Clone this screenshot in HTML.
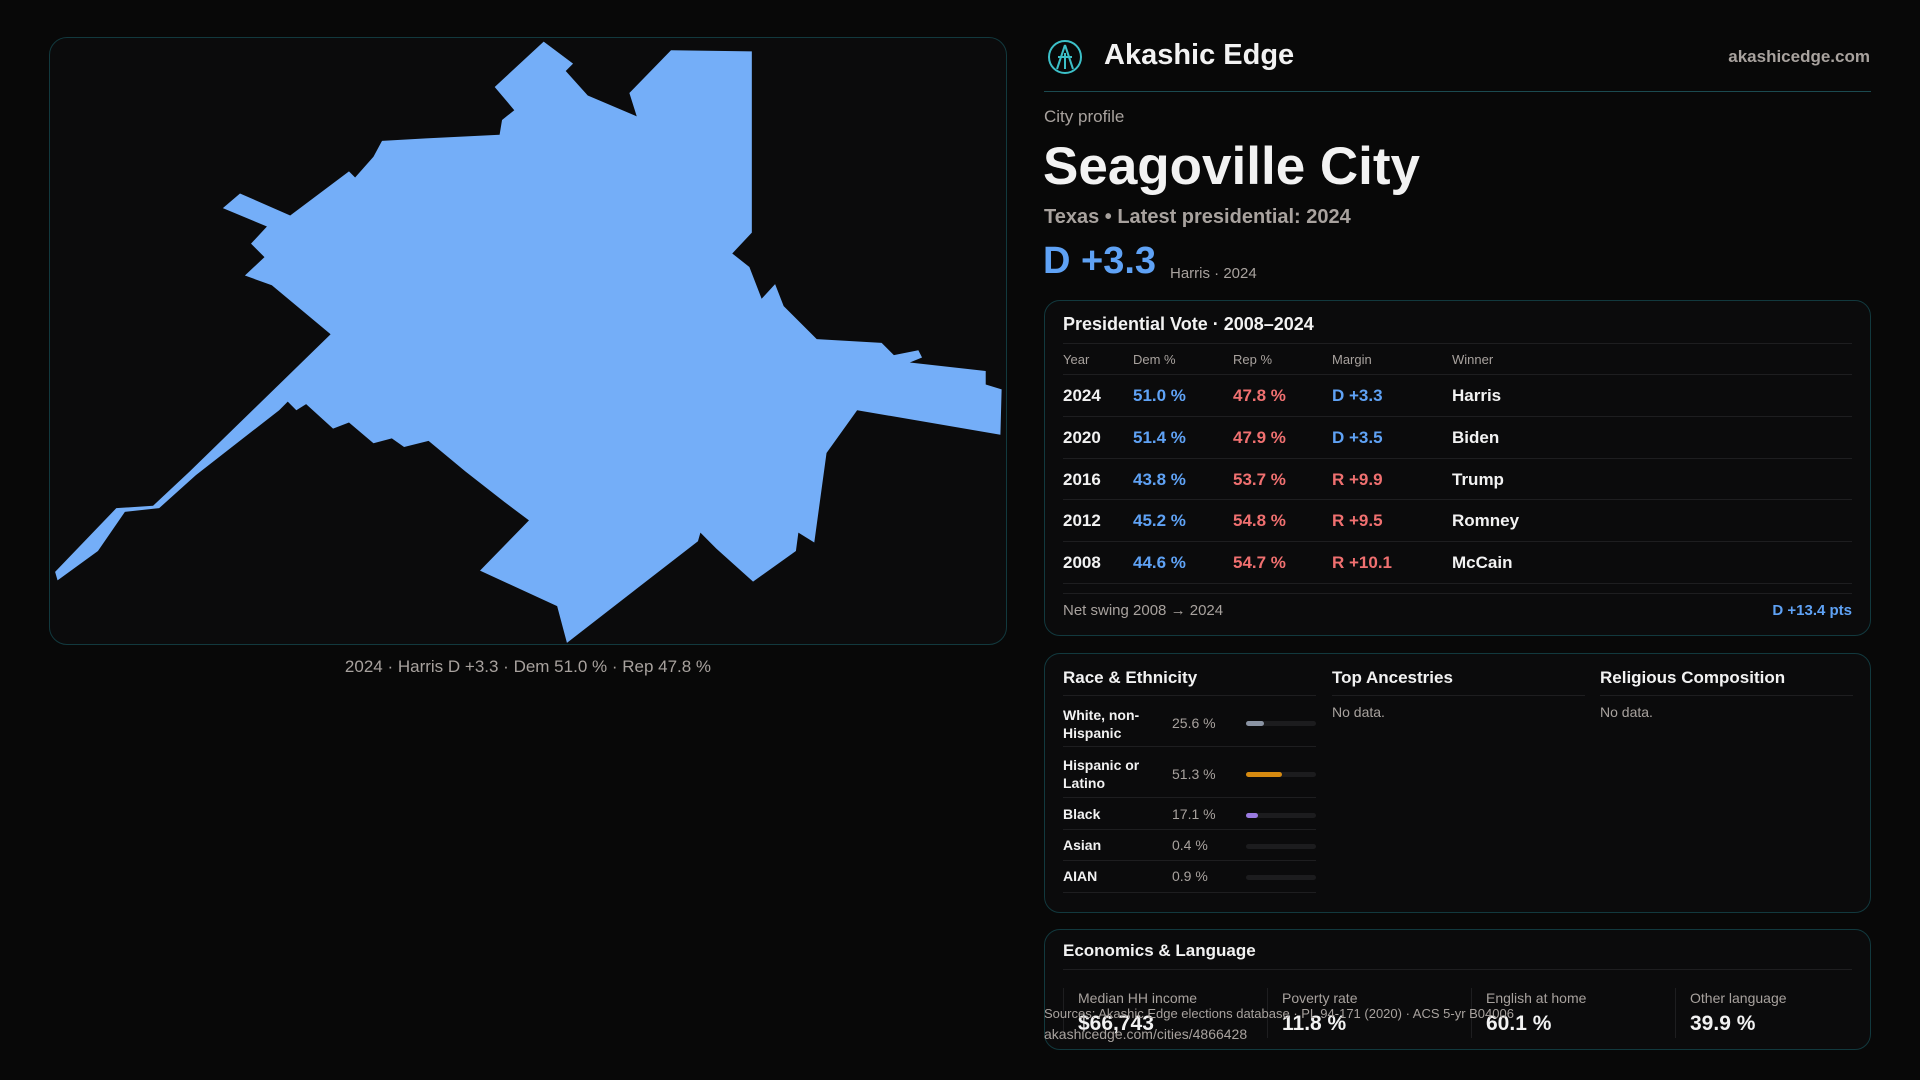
<!DOCTYPE html>
<html><head><meta charset="utf-8"><style>
*{margin:0;padding:0;box-sizing:border-box}
body{width:1920px;height:1080px;background:#080808;font-family:"Liberation Sans",sans-serif;color:#f2f2f2;position:relative;overflow:hidden}
.a{position:absolute;white-space:nowrap}
.panel{position:absolute;background:#0b0b0c;border:1px solid #12393e;border-radius:16px}
.g{color:#a8a29e}
.b{color:#5fa2f5}.r{color:#f07070}
.row{position:absolute;left:0;width:100%;border-bottom:1px solid #1e1e20}
</style></head><body>
<div class="panel" style="left:49px;top:37px;width:958px;height:608px;border-radius:18px"></div>
<svg class="a" style="left:0;top:0" width="1920" height="1080" viewBox="0 0 1568 882">
<polygon fill="#74aef8" points="444,34 468,52 462,58 480,78 520,95 514,76 548,41 614,42 614,190 598,207 612,218 622,244 633,232 640,250 667,277 720,280 730,290 750,286 753,292 743,296 805,303 805,314 818,318 817,355 700,335 675,370 665,443 652,435 650,450 615,475 585,448 572,435 570,442 463,525 455,495 392,466 432,425 412,410 380,385 350,360 330,365 320,358 305,362 285,345 272,350 250,330 242,335 235,328 228,335 160,388 130,415 102,418 80,450 47,474 45,467 95,415 125,413 155,385 270,273 222,233 200,225 216,210 205,199 218,185 182,170 196,158 237,176 285,140 290,145 305,128 312,115 348,113 408,110 410,98 420,90 404,71"/>
</svg>
<div class="a g" style="left:0;width:1056px;text-align:center;top:657px;font-size:17px">2024 · Harris D +3.3 · Dem 51.0 % · Rep 47.8 %</div>

<svg class="a" style="left:1047px;top:39px" width="36" height="36" viewBox="0 0 36 36"><circle cx="18" cy="18" r="16" fill="none" stroke="#3cc0c8" stroke-width="2"/><path d="M18 6 L10 30 M18 6 L26 30 M11 18 L25 18 M18 14 V30" stroke="#3cc0c8" stroke-width="2" fill="none"/></svg>
<div class="a" style="left:1104px;top:39px;font-size:29px;font-weight:bold">Akashic Edge</div>
<div class="a g" style="right:50px;top:47px;font-size:17px;font-weight:bold">akashicedge.com</div>
<div class="a" style="left:1044px;top:91px;width:827px;height:1px;background:#1b4a50"></div>
<div class="a g" style="left:1044px;top:107px;font-size:17px">City profile</div>
<div class="a" style="left:1043px;top:136px;font-size:53px;font-weight:bold">Seagoville City</div>
<div class="a g" style="left:1044px;top:206px;font-size:20px;font-weight:bold">Texas • Latest presidential: 2024</div>
<div class="a b" style="left:1043px;top:240px;font-size:38px;font-weight:bold">D +3.3</div>
<div class="a g" style="left:1170px;top:265px;font-size:15px">Harris · 2024</div>

<div class="panel" style="left:1044px;top:300px;width:827px;height:336px">
 <div class="a" style="left:18px;top:13px;font-size:18px;font-weight:bold">Presidential Vote · 2008–2024</div>
 <div style="position:absolute;left:18px;right:18px;top:42px;height:250px">
  <div class="row" style="top:0;height:32px;border-top:1px solid #1e1e20"></div>
  <div class="a g" style="left:0;top:9px;font-size:13px">Year</div><div class="a g" style="left:70px;top:9px;font-size:13px">Dem %</div><div class="a g" style="left:170px;top:9px;font-size:13px">Rep %</div><div class="a g" style="left:269px;top:9px;font-size:13px">Margin</div><div class="a g" style="left:389px;top:9px;font-size:13px">Winner</div>
  <div class="row" style="top:32px;height:42px"></div><div class="row" style="top:74px;height:42px"></div><div class="row" style="top:116px;height:41px"></div><div class="row" style="top:157px;height:42px"></div><div class="row" style="top:199px;height:42px"></div>
 </div>
 <div class="a" style="left:18px;top:74px;font-size:17px;line-height:41.8px;font-weight:bold">2024<br>2020<br>2016<br>2012<br>2008</div>
 <div class="a b" style="left:88px;top:74px;font-size:17px;line-height:41.8px;font-weight:bold">51.0 %<br>51.4 %<br>43.8 %<br>45.2 %<br>44.6 %</div>
 <div class="a r" style="left:188px;top:74px;font-size:17px;line-height:41.8px;font-weight:bold">47.8 %<br>47.9 %<br>53.7 %<br>54.8 %<br>54.7 %</div>
 <div class="a" style="left:287px;top:74px;font-size:17px;line-height:41.8px;font-weight:bold"><span class="b">D +3.3</span><br><span class="b">D +3.5</span><br><span class="r">R +9.9</span><br><span class="r">R +9.5</span><br><span class="r">R +10.1</span></div>
 <div class="a" style="left:407px;top:74px;font-size:17px;line-height:41.8px;font-weight:bold">Harris<br>Biden<br>Trump<br>Romney<br>McCain</div>
 <div class="a" style="left:18px;right:18px;top:292px;height:1px;background:#1e1e20"></div>
 <div class="a g" style="left:18px;top:301px;font-size:15px">Net swing 2008 → 2024</div>
 <div class="a b" style="right:18px;top:301px;font-size:15px;font-weight:bold">D +13.4 pts</div>
</div>
<style>.cl{position:absolute;width:253px;top:14px}.ct{font-size:17px;font-weight:bold;height:28px;border-bottom:1px solid #1e1e20}.rr{position:relative;border-bottom:1px solid #1e1e20;font-size:14px;font-weight:bold}.rr .p{position:absolute;left:109px;color:#a8a29e;font-weight:normal}.rr .bar{position:absolute;left:183px;width:70px;height:5px;border-radius:3px;background:#1c1c1e}</style>
<div class="panel" style="left:1044px;top:653px;width:827px;height:260px">
 <div class="cl" style="left:18px"><div class="ct">Race &amp; Ethnicity</div>
  <div class="rr" style="height:51px;padding-top:10px;line-height:18px">White, non-<br>Hispanic<span class="p" style="top:18px">25.6 %</span><span class="bar" style="top:25px"><span style="display:block;width:18px;height:5px;border-radius:3px;background:#8a93a3"></span></span></div>
  <div class="rr" style="height:51px;padding-top:9px;line-height:18px">Hispanic or<br>Latino<span class="p" style="top:18px">51.3 %</span><span class="bar" style="top:25px"><span style="display:block;width:36px;height:5px;border-radius:3px;background:#d68a10"></span></span></div>
  <div class="rr" style="height:32px;padding-top:8px">Black<span class="p" style="top:8px">17.1 %</span><span class="bar" style="top:15px"><span style="display:block;width:12px;height:5px;border-radius:3px;background:#9a7ae0"></span></span></div>
  <div class="rr" style="height:31px;padding-top:7px">Asian<span class="p" style="top:7px">0.4 %</span><span class="bar" style="top:14px"></span></div>
  <div class="rr" style="height:32px;padding-top:7px">AIAN<span class="p" style="top:7px">0.9 %</span><span class="bar" style="top:14px"></span></div>
 </div>
 <div class="cl" style="left:287px"><div class="ct">Top Ancestries</div><div class="g" style="font-size:14px;margin-top:8px">No data.</div></div>
 <div class="cl" style="left:555px"><div class="ct">Religious Composition</div><div class="g" style="font-size:14px;margin-top:8px">No data.</div></div>
</div>
<div class="panel" style="left:1044px;top:929px;width:827px;height:121px">
 <div class="a" style="left:18px;top:11px;font-size:17px;font-weight:bold">Economics &amp; Language</div>
 <div class="a" style="left:18px;right:18px;top:39px;height:1px;background:#1e1e20"></div>
 <div class="a" style="left:18px;top:58px;width:1px;height:50px;background:#1e1e20"></div>
 <div class="a" style="left:222px;top:58px;width:1px;height:50px;background:#1e1e20"></div>
 <div class="a" style="left:426px;top:58px;width:1px;height:50px;background:#1e1e20"></div>
 <div class="a" style="left:630px;top:58px;width:1px;height:50px;background:#1e1e20"></div>
 <div class="a g" style="left:33px;top:60px;font-size:14px">Median HH income</div><div class="a" style="left:33px;top:82px;font-size:21px;font-weight:bold">$66,743</div>
 <div class="a g" style="left:237px;top:60px;font-size:14px">Poverty rate</div><div class="a" style="left:237px;top:82px;font-size:21px;font-weight:bold">11.8 %</div>
 <div class="a g" style="left:441px;top:60px;font-size:14px">English at home</div><div class="a" style="left:441px;top:82px;font-size:21px;font-weight:bold">60.1 %</div>
 <div class="a g" style="left:645px;top:60px;font-size:14px">Other language</div><div class="a" style="left:645px;top:82px;font-size:21px;font-weight:bold">39.9 %</div>
</div>
<div class="a g" style="left:1044px;top:1006px;font-size:13px">Sources: Akashic Edge elections database · PL 94-171 (2020) · ACS 5-yr B04006</div>
<div class="a g" style="left:1044px;top:1026px;font-size:14px">akashicedge.com/cities/4866428</div>
</body></html>
